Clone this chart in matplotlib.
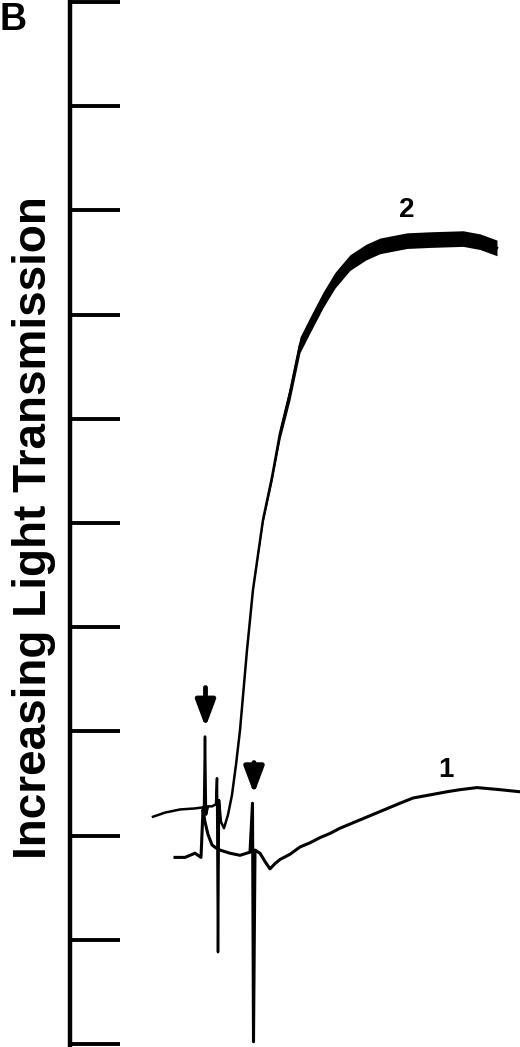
import matplotlib
matplotlib.use('Agg')
import matplotlib.pyplot as plt
import numpy as np

plt.rcParams['font.family'] = ['Liberation Sans', 'DejaVu Sans']

# trace 2 (upper curve), time in arbitrary units, transmission in tick units
t2 = [153, 165, 180, 195, 203, 204, 205, 206, 208, 212, 216, 217, 218, 219, 221,
      224, 228, 232, 236, 240, 247, 253, 263, 272, 280, 290, 300, 310, 323, 335,
      350, 366, 380, 407, 430, 463, 480, 497]
y2 = [2.18, 2.22, 2.25, 2.26, 2.27, 2.26, 2.95, 2.20, 2.28, 2.28, 2.30, 2.55, 0.88, 2.34, 2.13,
      2.07, 2.20, 2.39, 2.68, 3.01, 3.78, 4.36, 5.03, 5.44, 5.86, 6.25, 6.71, 6.90, 7.14, 7.33,
      7.50, 7.60, 7.66, 7.71, 7.72, 7.73, 7.70, 7.64]

# trace 1 (lower curve)
t1 = [175, 185, 190, 195, 201, 203, 205, 208, 212, 216, 220, 230, 240, 250, 252.5,
      253.5, 255, 260, 265, 270, 275, 280, 290, 300, 310, 320, 330, 340, 360, 380,
      400, 413, 430, 447, 460, 477, 500, 520]
y1 = [1.79, 1.79, 1.81, 1.83, 1.79, 2.25, 2.13, 2.01, 1.91, 1.88, 1.86, 1.83, 1.81, 1.84, 2.31,
      0.02, 1.86, 1.83, 1.75, 1.68, 1.73, 1.77, 1.82, 1.89, 1.93, 1.98, 2.02, 2.07, 2.15, 2.23,
      2.31, 2.36, 2.39, 2.42, 2.44, 2.46, 2.44, 2.42]

# additions (arrows): time, tail, tip
arrow_t = [205.5, 254]
arrow_tail = [3.42, 2.70]
arrow_tip = [3.04, 2.40]

fig = plt.figure(figsize=(5.2, 10.47), dpi=100)
ax = fig.add_axes([0, 0, 1, 1])
ax.set_xlim(0, 520)
ax.set_ylim(-0.03, 10.02)

# trace 2 gets noisier as it rises: draw the noise envelope as a band
y2a = np.array(y2)
noise = 0.075 * np.clip((y2a - 4.2) / 2.2, 0, 1)
ax.fill_between(t2, y2a - noise, y2a + noise, color='black', lw=0)
ax.plot(t2, y2, color='black', lw=1.8)
ax.plot(t1, y1, color='black', lw=2.2)

for x, a, b in zip(arrow_t, arrow_tail, arrow_tip):
    ax.annotate('', xy=(x, b), xytext=(x, a),
                arrowprops=dict(arrowstyle='-|>,head_length=0.8,head_width=0.3',
                                mutation_scale=20, lw=3.5, color='black',
                                shrinkA=0, shrinkB=0))

ax.text(407, 8.0, '2', fontsize=20, fontweight='bold', ha='center', va='center')
ax.text(446, 2.63, '1', fontsize=20, fontweight='bold', ha='center', va='center')

for s in ['top', 'right', 'bottom']:
    ax.spines[s].set_visible(False)
ax.spines['left'].set_position(('data', 70))
ax.spines['left'].set_linewidth(3.2)
ax.set_yticks(range(0, 11))
ax.set_yticklabels([])
ax.set_xticks([])
ax.tick_params(axis='y', direction='in', length=36, width=2.8)
ax.patch.set_alpha(0)

fig.text(34 / 520, 1 - 528 / 1047, 'Increasing Light Transmission', rotation=90,
         fontsize=33, fontweight='bold', ha='center', va='center')
fig.text(0.0, 1 - 2 / 1047, 'B', fontsize=27, fontweight='bold', ha='left', va='top')

fig.savefig('out.png', dpi=100)
